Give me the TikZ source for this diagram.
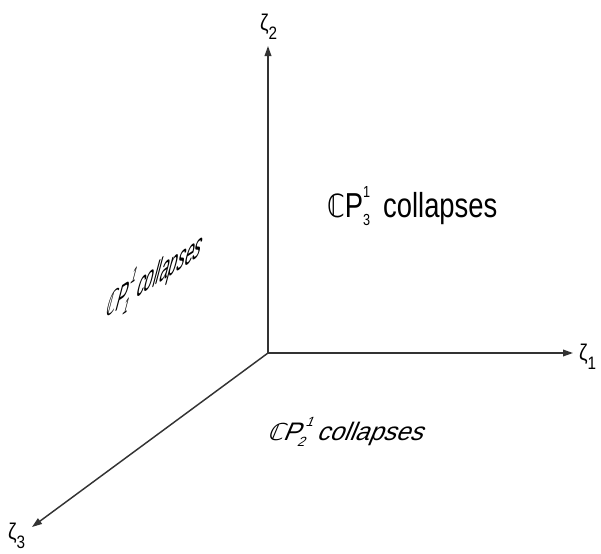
\documentclass[tikz,border=0pt]{standalone}
\usepackage{fontspec}
\setmainfont{Liberation Sans}
\newfontfamily\dvs{DejaVu Sans}[Scale=0.92]
\usetikzlibrary{arrows.meta}
\newcommand{\CPl}[3]{{\dvs ℂ}P\rlap{\raisebox{#3}{\fontsize{#1}{#1}\selectfont 1}}\raisebox{-0.25em}{\fontsize{#1}{#1}\selectfont #2}}
\newcommand{\zl}[1]{ζ\raisebox{-0.42em}{\fontsize{13.5}{13.5}\selectfont #1}}
\tikzset{
  axis/.style={draw=black!80, line width=1.1pt, -{Triangle[length=7.5pt,width=5pt]}},
  zlab/.style={anchor=base west, inner sep=0pt, font=\fontsize{17}{17}\selectfont, xscale=0.85},
  lab/.style={anchor=base west, inner sep=0pt}
}
\begin{document}
\begin{tikzpicture}[x=0.75pt,y=-0.75pt]
\useasboundingbox (0,0) rectangle (601,554);
\coordinate (O) at (268,353);
\coordinate (E1) at (573,353);
\coordinate (E2) at (268,46);
\coordinate (E3) at (32,527);
\draw[axis] (O) -- (E1);
\draw[axis] (O) -- (E2);
\draw[axis] (O) -- (E3);
\node[zlab] (z1) at (579,360) {\zl{1}};
\node[zlab] (z2) at (260,30) {\zl{2}};
\node[zlab] (z3) at (8,539) {\zl{3}};
\node[lab, font=\fontsize{26}{26}\selectfont, xscale=0.79] (cp3) at (327,217) {\CPl{12}{3}{0.55em}\hspace{0.2em} collapses};
\node[lab, font=\fontsize{19}{19}\selectfont, xslant=0.42] (cp2) at (266,440) {\CPl{10}{2}{0.55em}\hspace{0.1em} collapses};
\node[lab, font=\fontsize{10}{10}\selectfont, cm={1.15,0.75,0.75,2.85,(0,0)}] (cp1) at (104,319) {\CPl{6}{1}{0.55em}\hspace{0.1em} collapses};
\end{tikzpicture}
\end{document}
